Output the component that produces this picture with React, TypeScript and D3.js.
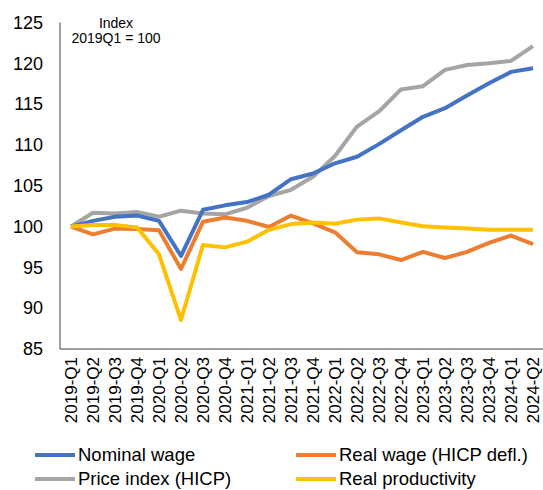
import React from "react";
import * as d3 from "d3";

const categories = [
  "2019-Q1", "2019-Q2", "2019-Q3", "2019-Q4",
  "2020-Q1", "2020-Q2", "2020-Q3", "2020-Q4",
  "2021-Q1", "2021-Q2", "2021-Q3", "2021-Q4",
  "2022-Q1", "2022-Q2", "2022-Q3", "2022-Q4",
  "2023-Q1", "2023-Q2", "2023-Q3", "2023-Q4",
  "2024-Q1", "2024-Q2",
];

const nominalWage = [
  100, 100.7, 101.2, 101.35, 100.7, 96.4, 102.05, 102.6, 103.0, 103.9, 105.8,
  106.5, 107.75, 108.55, 110.1, 111.8, 113.45, 114.5, 116.05, 117.55, 118.95, 119.4,
];
const priceIndex = [
  100, 101.7, 101.6, 101.8, 101.2, 101.95, 101.6, 101.5, 102.3, 103.75, 104.5,
  106.1, 108.65, 112.25, 114.1, 116.8, 117.2, 119.2, 119.8, 120.0, 120.3, 122.1,
];
const realWage = [
  100, 99.05, 99.75, 99.7, 99.55, 94.8, 100.6, 101.1, 100.7, 99.95, 101.35,
  100.4, 99.3, 96.85, 96.6, 95.9, 96.9, 96.15, 96.9, 98.0, 98.9, 97.85,
];
const realProductivity = [
  100, 100.2, 100.2, 99.9, 96.6, 88.55, 97.75, 97.45, 98.15, 99.6, 100.3,
  100.5, 100.35, 100.85, 101.0, 100.5, 100.05, 99.9, 99.75, 99.6, 99.6, 99.6,
];

const yTicks = [85, 90, 95, 100, 105, 110, 115, 120, 125];

const seriesNames = ["Nominal wage", "Real wage (HICP defl.)", "Price index (HICP)", "Real productivity"];
const seriesColors = ["#4472C4", "#ED7D31", "#A5A5A5", "#FFC000"];
const seriesData = [nominalWage, realWage, priceIndex, realProductivity];
const drawOrder = [2, 0, 1, 3];

const FONT = "'Liberation Sans', Arial, sans-serif";

export default function App() {
  const W = 543;
  const H = 490;
  const left = 60;
  const right = 544;
  const top = 22.5;
  const bottom = 349;

  const x = d3.scaleBand<string>().domain(categories).range([left, right]).padding(0);
  const cx = (c: string) => (x(c) as number) + x.bandwidth() / 2;
  const y = d3.scaleLinear().domain([85, 125]).range([bottom, top]);

  const line = d3
    .line<number>()
    .x((_, i) => cx(categories[i]))
    .y((d) => y(d));

  const legendPos = [
    { lx: 35, ly: 455 },
    { lx: 296, ly: 455 },
    { lx: 35, ly: 479 },
    { lx: 296, ly: 479 },
  ];

  return (
    <svg
      width={W}
      height={H}
      style={{ position: "absolute", left: 0, top: 0, background: "#fff" }}
      fontFamily={FONT}
    >
      <rect x={0} y={0} width={W} height={H} fill="#fff" />
      {/* y tick labels */}
      {yTicks.map((t) => (
        <text key={t} x={43} y={y(t)} dy="0.35em" textAnchor="end" fontSize={18} fill="#000">
          {t}
        </text>
      ))}
      {/* axes */}
      <line x1={left} x2={left} y1={top} y2={bottom} stroke="#404040" strokeWidth={1} />
      <line x1={left} x2={W} y1={bottom} y2={bottom} stroke="#404040" strokeWidth={1} />
      {/* x labels */}
      {categories.map((c) => (
        <text
          key={c}
          transform={`translate(${cx(c)},${357}) rotate(-90)`}
          textAnchor="end"
          dy="0.35em"
          fontSize={17}
          fill="#000"
        >
          {c}
        </text>
      ))}
      {/* series */}
      {drawOrder.map((k) => (
        <path
          key={seriesNames[k]}
          d={line(seriesData[k]) || ""}
          fill="none"
          stroke={seriesColors[k]}
          strokeWidth={4}
          strokeLinejoin="round"
        />
      ))}
      {/* annotation */}
      <text x={116} y={28} textAnchor="middle" fontSize={14} fill="#000">Index</text>
      <text x={116} y={43} textAnchor="middle" fontSize={14} fill="#000">2019Q1 = 100</text>
      {/* legend */}
      {seriesNames.map((n, k) => (
        <g key={n}>
          <line
            x1={legendPos[k].lx}
            x2={legendPos[k].lx + 40}
            y1={legendPos[k].ly}
            y2={legendPos[k].ly}
            stroke={seriesColors[k]}
            strokeWidth={4}
          />
          <text x={legendPos[k].lx + 43} y={legendPos[k].ly} dy="0.35em" fontSize={18.5} fill="#000">
            {n}
          </text>
        </g>
      ))}
    </svg>
  );
}
